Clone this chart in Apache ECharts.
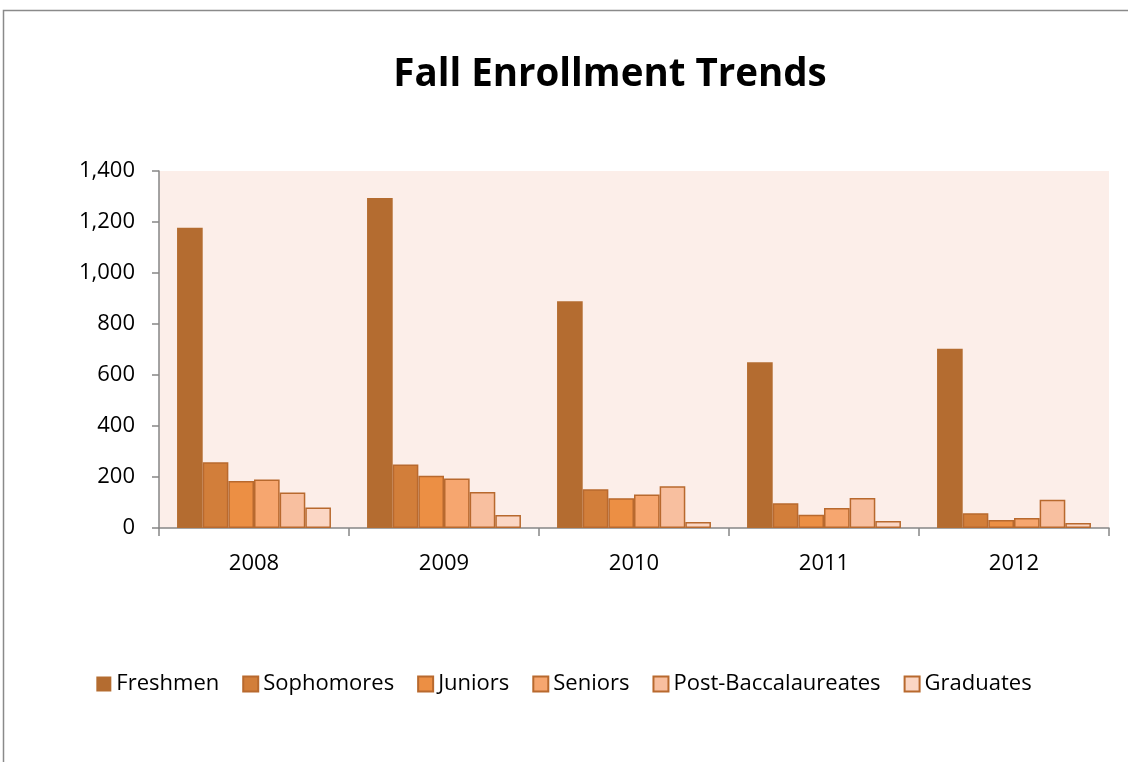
<!DOCTYPE html>
<html><head><meta charset="utf-8">
<script src="https://cdn.jsdelivr.net/npm/echarts@6/dist/echarts.min.js"></script>
<style>html,body{margin:0;padding:0;background:#fff}#c{width:1128px;height:762px}</style>
</head><body><div id="c"></div>
<script>
const categories = ['2008','2009','2010','2011','2012'];
const seriesNames = ['Freshmen','Sophomores','Juniors','Seniors','Post-Baccalaureates','Graduates'];
const freshmen = [1177, 1294, 889, 650, 703];
const sophomores = [258, 249, 152, 97, 58];
const juniors = [184, 205, 117, 52, 31];
const seniors = [190, 194, 131, 78, 39];
const postBacc = [139, 141, 164, 118, 111];
const graduates = [80, 51, 24, 27, 20];
const yTicks = [0, 200, 400, 600, 800, 1000, 1200, 1400];

const values = [freshmen, sophomores, juniors, seniors, postBacc, graduates];
const colors = ['#B46C30','#D27E3A','#EC8F44','#F6A66F','#F8BF9F','#FBD6C4'];
const borders = ['#B46C30','#B8692E','#B8692E','#B8692E','#B8692E','#B8692E'];
const font = 'Open Sans, Liberation Sans, sans-serif';

const chart = echarts.init(document.getElementById('c'), null, {renderer:'canvas'});
chart.setOption({
  animation:false,
  backgroundColor:'#fff',
  graphic:[
    {type:'rect', shape:{x:3.5,y:10.5,width:1200,height:800}, style:{fill:'none', stroke:'#8a8a8a', lineWidth:1.5}, z:-1},
    {type:'text', x:610, y:75, style:{text:'Fall Enrollment Trends', fill:'#000', font:'bold 38.5px Open Sans, sans-serif', textAlign:'center', textVerticalAlign:'middle'}}
  ],
  legend:{bottom:62, left:'center', itemWidth:15, itemHeight:15, itemGap:23, icon:'rect',
    textStyle:{fontFamily:font, fontSize:22, color:'#000'}, data:seriesNames},
  grid:{left:159, right:19, top:171, bottom:234, backgroundColor:'#FCEEE9', show:true, borderWidth:0},
  xAxis:{type:'category', data:categories,
    axisLine:{lineStyle:{color:'#868686', width:1.5}},
    axisTick:{show:true, length:8, lineStyle:{color:'#868686', width:1.5}},
    axisLabel:{fontFamily:font, fontSize:22, color:'#000', margin:25}},
  yAxis:{type:'value', min:0, max:1400, interval:200,
    axisLine:{show:true, lineStyle:{color:'#868686', width:1.5}},
    axisTick:{show:true, length:7, lineStyle:{color:'#868686', width:1.5}},
    splitLine:{show:false},
    axisLabel:{fontFamily:font, fontSize:22, color:'#000', margin:24,
      formatter:v=>v.toLocaleString('en-US')}},
  series: seriesNames.map((n,i)=>({
    name:n, type:'bar', data:values[i], barGap:'0%', barCategoryGap:'19%',
    itemStyle:{color:colors[i], borderColor:borders[i], borderWidth: i===0?0:1.5}
  }))
});
</script></body></html>
